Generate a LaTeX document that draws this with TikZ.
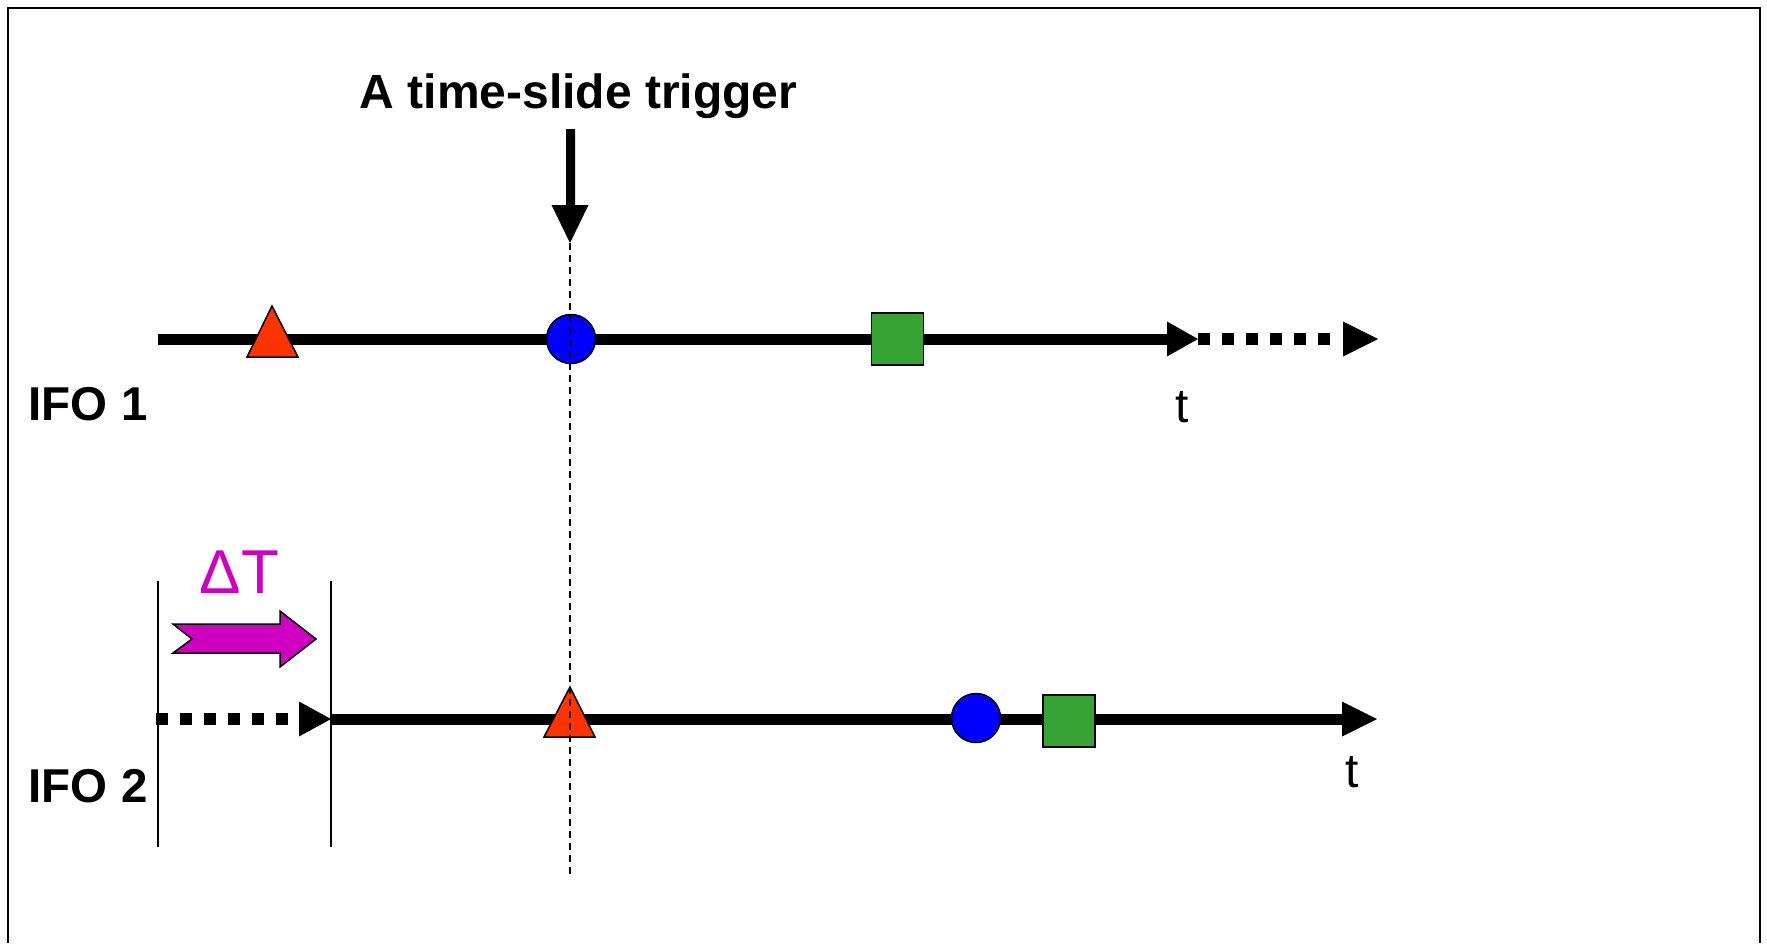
\documentclass[tikz,border=0pt]{standalone}
\usepackage{fontspec}
\setmainfont{Liberation Sans}
\begin{document}
\begin{tikzpicture}[x=1pt,y=-1pt,
  axis/.style={line width=11pt},
  dotline/.style={line width=12pt, dash pattern=on 12pt off 12pt},
  tiphead/.style={fill=black},
  marker/.style={draw=black, line width=1.5pt},
  thinline/.style={line width=1.5pt},
  guide/.style={line width=1.3pt, dash pattern=on 7pt off 5pt},
  boldlabel/.style={font=\bfseries\fontsize{47.5}{50}\selectfont, inner sep=0pt},
  tlabel/.style={font=\fontsize{48}{50}\selectfont, inner sep=0pt}]
\definecolor{trired}{RGB}{255,51,0}
\definecolor{dotblue}{RGB}{0,0,255}
\definecolor{sqgreen}{RGB}{56,163,53}
\definecolor{shiftmag}{RGB}{208,0,192}
\useasboundingbox (0,0) rectangle (1767,943);
% frame
\draw[line width=2.5pt] (8,943) -- (8,8) -- (1760,8) -- (1760,943);
% coordinates
\coordinate (a1s) at (158,339);
\coordinate (a1e) at (1167,339);
\coordinate (d1s) at (1198,339);
\coordinate (d1e) at (1332,339);
\coordinate (d2s) at (156,719);
\coordinate (d2e) at (288,719);
\coordinate (a2s) at (331,719);
\coordinate (a2e) at (1342,719);
\coordinate (vl1t) at (158,581);
\coordinate (vl1b) at (158,847);
\coordinate (vl2t) at (331,581);
\coordinate (vl2b) at (331,847);
\coordinate (trigtip) at (570,243);
\coordinate (guideend) at (570,877);
% IFO 1 axis
\draw[axis] (a1s) -- (a1e);
\fill[tiphead] (1167,321.5) -- (1198,339) -- (1167,356.5) -- cycle;
\draw[dotline] (d1s) -- (d1e);
\fill[tiphead] (1343,321.5) -- (1378,339) -- (1343,356.5) -- cycle;
% IFO 2 axis
\draw[dotline] (d2s) -- (d2e);
\fill[tiphead] (299,701.5) -- (331,719) -- (299,736.5) -- cycle;
\draw[axis] (a2s) -- (a2e);
\fill[tiphead] (1342,701.5) -- (1377,719) -- (1342,736.5) -- cycle;
% thin vertical lines
\draw[thinline] (vl1t) -- (vl1b);
\draw[thinline] (vl2t) -- (vl2b);
% markers IFO 1
\draw[marker, fill=trired] (247,357) -- (272,306) -- (298,357) -- cycle;
\node[marker, circle, fill=dotblue, minimum size=49pt, inner sep=0pt] (c1) at (571,339) {};
\node[marker, rectangle, fill=sqgreen, minimum size=52pt, inner sep=0pt] (s1) at (897.5,339) {};
% markers IFO 2
\draw[marker, fill=trired] (544,737) -- (570,687) -- (595,737) -- cycle;
\node[marker, circle, fill=dotblue, minimum size=49pt, inner sep=0pt] (c2) at (976,718) {};
\node[marker, rectangle, fill=sqgreen, minimum size=52pt, inner sep=0pt] (s2) at (1069,721) {};
% trigger arrow
\fill[tiphead] (566,129) -- (575,129) -- (575,205) -- (588.5,205) -- (trigtip) -- (551.5,205) -- (566,205) -- cycle;
\draw[guide] (trigtip) -- (guideend);
% shift arrow
\draw[line width=1.5pt, fill=shiftmag] (173,624) -- (192,639) -- (173,653) -- (280,653) -- (280,667) -- (316,639) -- (280,611) -- (280,624) -- cycle;
% texts
\node[font=\bfseries\fontsize{48}{50}\selectfont, inner sep=0pt, anchor=base] (title) at (578.5,108) {A time-slide trigger};
\node[boldlabel, anchor=base west] (ifo1) at (28.5,420) {IFO 1};
\node[boldlabel, anchor=base west] (ifo2) at (28.5,802) {IFO 2};
\node[tlabel, anchor=base west] (t1) at (1175,422) {t};
\node[tlabel, anchor=base west] (t2) at (1345,787) {t};
\node[font=\fontsize{62}{64}\selectfont, text=shiftmag, inner sep=0pt, anchor=base] (dT) at (239.5,593) {ΔT};
\end{tikzpicture}
\end{document}
